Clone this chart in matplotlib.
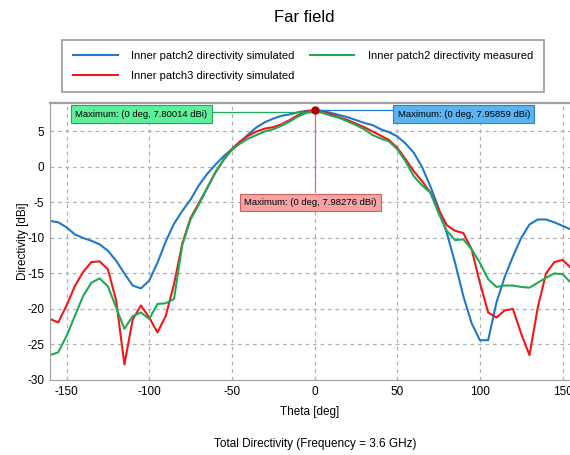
import matplotlib
matplotlib.use("Agg")
import matplotlib.pyplot as plt

plt.rcParams['font.family'] = ['Liberation Sans', 'DejaVu Sans']
plt.rcParams['axes.unicode_minus'] = False

theta = list(range(-160, 160, 5))

patch2_sim = [-7.6, -7.8, -8.5, -9.5, -10.0, -10.4, -10.9, -11.8, -13.2, -15.0,
              -16.7, -17.1, -16.0, -13.5, -10.5, -8.0, -6.2, -4.6, -2.6, -1.0,
              0.3, 1.5, 2.5, 3.5, 4.6, 5.6, 6.3, 6.8, 7.2, 7.4,
              7.7, 7.9, 7.96, 7.9, 7.6, 7.3, 7.0, 6.6, 6.2, 5.9,
              5.3, 4.9, 4.3, 3.3, 2.0, 0.0, -2.7, -5.8, -9.3, -13.5,
              -18.2, -22.0, -24.4, -24.4, -19.1, -15.5, -12.6, -10.0, -8.1, -7.4,
              -7.4, -7.8, -8.3, -8.8]

patch3_sim = [-21.4, -21.9, -19.5, -16.8, -14.8, -13.4, -13.3, -14.4, -18.8, -27.8,
              -21.5, -19.5, -21.2, -23.3, -21.0, -16.5, -10.8, -7.2, -5.1, -3.0,
              -0.8, 1.0, 2.5, 3.6, 4.4, 5.0, 5.4, 5.6, 6.0, 6.6,
              7.3, 7.8, 7.98, 7.8, 7.4, 7.0, 6.6, 6.1, 5.6, 5.0,
              4.4, 3.8, 2.7, 1.1, -0.6, -2.0, -3.6, -6.0, -8.2, -9.0,
              -9.3, -11.6, -16.3, -20.5, -21.2, -20.2, -20.0, -23.5, -26.5, -19.8,
              -15.0, -13.4, -13.1, -14.2]

patch2_meas = [-26.5, -26.1, -23.8, -21.0, -18.2, -16.3, -15.7, -16.8, -19.8, -22.8,
               -21.0, -20.5, -21.4, -19.3, -19.2, -18.6, -11.0, -7.4, -5.3, -3.0,
               -0.8, 1.0, 2.4, 3.3, 4.0, 4.5, 5.0, 5.3, 5.8, 6.4,
               7.1, 7.6, 7.80, 7.6, 7.2, 6.9, 6.4, 5.9, 5.3, 4.5,
               4.0, 3.6, 2.5, 0.8, -1.3, -2.6, -3.6, -6.5, -9.0, -10.3,
               -10.2, -11.6, -13.5, -15.8, -16.9, -16.7, -16.7, -16.9, -17.0, -16.3,
               -15.6, -15.0, -15.1, -16.3]

labels = ["Inner patch2 directivity simulated",
          "Inner patch3 directivity simulated",
          "Inner patch2 directivity measured"]
max_labels = ["Maximum: (0 deg, 7.95859 dBi)",
              "Maximum: (0 deg, 7.98276 dBi)",
              "Maximum: (0 deg, 7.80014 dBi)"]
xticks = [-150, -100, -50, 0, 50, 100, 150]
yticks = [-30, -25, -20, -15, -10, -5, 0, 5]

c_blue = '#1f78c8'
c_red = '#f01818'
c_green = '#1faa55'

fig = plt.figure(figsize=(5.7, 4.55), dpi=100)
ax = fig.add_axes([50/570, 1-380/455, 520/570, 277/455])

ax.grid(True, linestyle=(0, (3, 3)), color='#b0b0b0', linewidth=0.9)
ax.set_axisbelow(True)

l1, = ax.plot(theta, patch2_sim, color=c_blue, lw=1.5, label=labels[0])
l2, = ax.plot(theta, patch3_sim, color=c_red, lw=1.5, label=labels[1])
l3, = ax.plot(theta, patch2_meas, color=c_green, lw=1.5, label=labels[2])

ax.set_xlim(-160, 154.5)
ax.set_ylim(-30, 9)
ax.set_xticks(xticks)
ax.set_yticks(yticks)
ax.tick_params(length=0, labelsize=8.5, pad=4)
for s in ax.spines.values():
    s.set_color('#a0a0a0')
ax.spines['top'].set_linewidth(1.6)
ax.spines['right'].set_visible(False)

ax.set_xlabel("Theta [deg]", fontsize=8.5, labelpad=6)
ax.set_ylabel("Directivity [dBi]", fontsize=8.5, labelpad=-1)

# maxima markers and annotations
peak_x = theta[patch3_sim.index(max(patch3_sim))]
ax.plot([-69, peak_x], [max(patch2_meas)] * 2, color=c_green, lw=0.9, zorder=4)
ax.plot([peak_x, 49], [max(patch2_sim)] * 2, color=c_blue, lw=0.9, zorder=4)
ax.plot([peak_x, peak_x], [max(patch3_sim), -3.6], color='#e07070', lw=0.9, zorder=4)
ax.plot([peak_x], [max(patch3_sim)], 'o', color='#b00000', ms=5, zorder=6)

box = dict(boxstyle='square,pad=0.45', lw=0.8)
ax.text(-144.8, 7.45, max_labels[2], fontsize=6.8, va='center', ha='left', zorder=7,
        bbox=dict(box, fc='#5ef09c', ec='#30a060'))
ax.text(50.3, 7.45, max_labels[0], fontsize=6.8, va='center', ha='left', zorder=7,
        bbox=dict(box, fc='#5ab4f2', ec='#3080c0'))
ax.text(-42.8, -5.0, max_labels[1], fontsize=6.8, va='center', ha='left', zorder=7,
        bbox=dict(box, fc='#f5a3a3', ec='#d06060'))

handles = [l1, l2, l3]
leg = fig.legend(handles=handles, labels=[h.get_label() for h in handles],
                 loc='upper left',
                 bbox_to_anchor=(62/570, 1-92/455, 482/570, 52/455), mode='expand',
                 ncol=2, fontsize=8, frameon=True, fancybox=False,
                 handlelength=4.0, handletextpad=1.2, columnspacing=1.5,
                 borderpad=1.0, labelspacing=0.85, borderaxespad=0)
leg.get_frame().set_edgecolor('#808080')
leg.get_frame().set_linewidth(1.2)

fig.text(304/570, 1-17/455, "Far field", fontsize=12, ha='center', va='center')
fig.text(315/570, 1-444/455, "Total Directivity (Frequency = 3.6 GHz)",
         fontsize=8.5, ha='center', va='center')

fig.savefig("out.png", dpi=100)
